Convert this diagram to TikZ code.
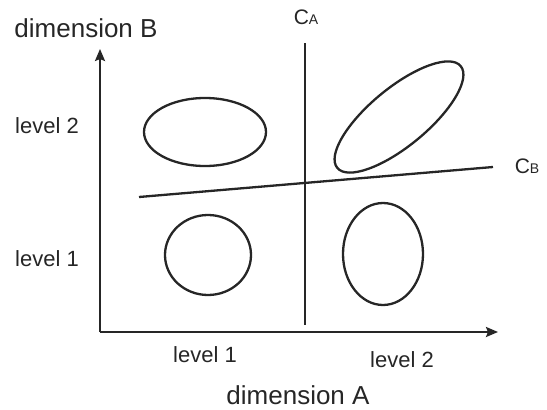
\documentclass[tikz,border=0pt]{standalone}
\usepackage{fontspec}
\setmainfont{Liberation Sans}
\usetikzlibrary{arrows.meta,shapes.geometric}
\begin{document}
\begin{tikzpicture}[x=1pt,y=-1pt,
  ln/.style={line width=2.3pt,draw=black!85},
  axis/.style={ln,-{Stealth[length=12pt,width=10pt,inset=2pt]}},
  blob/.style={ellipse,ln,inner sep=0pt},
  lbl/.style={anchor=base,inner sep=0pt,font=\fontsize{22}{22}\selectfont,text=black!85},
  dim/.style={anchor=base,inner sep=0pt,font=\fontsize{26}{26}\selectfont,text=black!85}]
\useasboundingbox (0,0) rectangle (547,410);
\coordinate (O) at (100,332);
\coordinate (Ytip) at (100,49);
\coordinate (Xtip) at (498,332);
\coordinate (CAtop) at (305,43);
\coordinate (CAbot) at (305,325);
\coordinate (CBl) at (139,197);
\coordinate (CBr) at (493,167);
\draw[axis] (O) -- (Ytip);
\draw[axis] (O) -- (Xtip);
\draw[ln] (CAtop) -- (CAbot);
\draw[ln] (CBl) -- (CBr);
\node[blob,minimum width=122pt,minimum height=68pt] (e1) at (205,132) {};
\node[blob,minimum width=86pt,minimum height=80pt] (e2) at (208,255) {};
\node[blob,minimum width=80pt,minimum height=102pt] (e3) at (383,254) {};
\node[blob,minimum width=160pt,minimum height=58pt,rotate=39.5] (e4) at (399,117) {};
\node[dim] (dB) at (86,37) {dimension B};
\node[dim] (dA) at (298,404) {dimension A};
\node[lbl] (l2y) at (47,133) {level 2};
\node[lbl] (l1y) at (47,266) {level 1};
\node[lbl] (l1x) at (205,362) {level 1};
\node[lbl] (l2x) at (402,367) {level 2};
\node[anchor=base,inner sep=0pt,text=black!85] (CA) at (306,24) {{\fontsize{21}{21}\selectfont C}{\fontsize{14}{14}\selectfont A}};
\node[anchor=base,inner sep=0pt,text=black!85] (CB) at (527,173) {{\fontsize{21}{21}\selectfont C}{\fontsize{14}{14}\selectfont B}};
\end{tikzpicture}
\end{document}
